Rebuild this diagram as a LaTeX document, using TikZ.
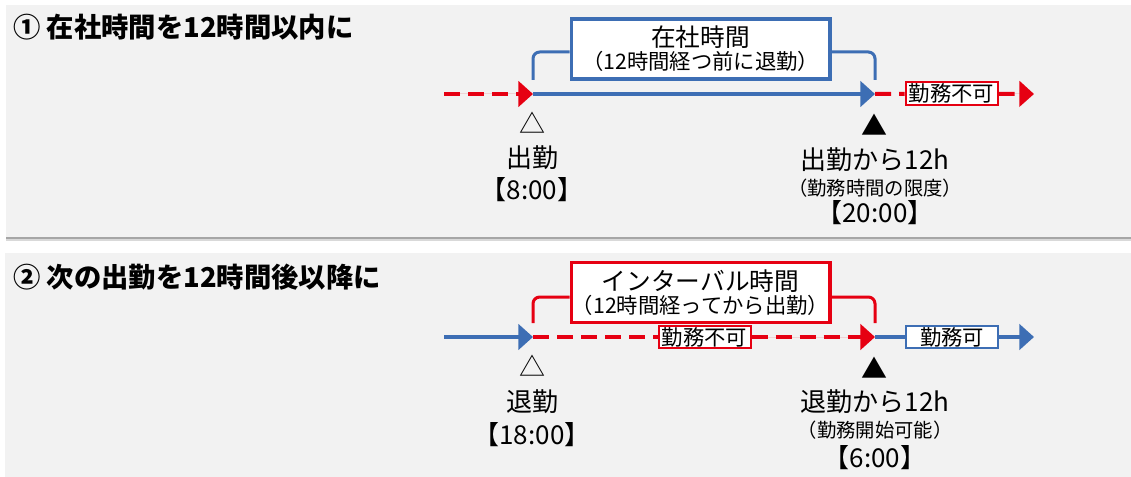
\documentclass[tikz,border=0pt]{standalone}
\usepackage{fontspec}
\setmainfont{Noto Sans CJK JP}
\usetikzlibrary{arrows.meta}
\definecolor{shiftblue}{HTML}{3D6EB4}
\definecolor{shiftred}{HTML}{E60012}

\begin{document}
\begin{tikzpicture}[x=0.75pt,y=-0.75pt]
    \tikzstyle{every node}=[inner sep=0pt]
    \tikzstyle{panel}=[fill=black!5]
    \tikzstyle{heading}=[anchor=west,font=\bfseries\fontsize{20.5}{24}\selectfont]
    \tikzstyle{arrow end}=[-{Triangle[length=11pt,width=19pt]}]
    \tikzstyle{blue line}=[draw=shiftblue,line width=3pt]
    \tikzstyle{red line}=[draw=shiftred,line width=3pt,dash pattern=on 12pt off 6pt]
    \tikzstyle{bracket}=[line width=2.25pt,rounded corners=5pt]
    \tikzstyle{span box}=[draw,fill=white,line width=2.5pt,minimum width=194pt,minimum height=45pt,align=center]
    \tikzstyle{state tag}=[draw,fill=white,line width=1.5pt,minimum width=69pt,minimum height=17pt,font=\fontsize{16}{16}\selectfont]
    \tikzstyle{time label}=[font=\fontsize{19.5}{22}\selectfont]
    \tikzstyle{note label}=[font=\fontsize{14.5}{16}\selectfont]

    \useasboundingbox (0,0) rectangle (1131,477);

    % Draw the two panels
    \fill[black!35] (6,237) rectangle (1131,239);
    \fill[black!15] (6,239) rectangle (1131,241);
    \foreach \left/\top/\bottom in {6/5/237, 5/253/477}
        \fill[panel] (\left,\top) rectangle (1131,\bottom);

    \node[heading] (title1) at (13,27) {① 在社時間を12時間以内に};
    \node[heading] (title2) at (13,277) {② 次の出勤を12時間後以降に};

    % Panel 1: time at the office
    \coordinate (s1) at (444,94);
    \coordinate (in1) at (533,94);
    \coordinate (lim1) at (875,94);
    \coordinate (e1) at (1034,94);
    \node[span box,draw=shiftblue] (stay) at (700.5,49)
        {{\fontsize{18.5}{21}\selectfont 在社時間}\\[1pt]{\fontsize{16}{18}\selectfont （12時間経つ前に退勤）}};
    \node[state tag,draw=shiftred] (nf1) at (951.5,93.5) {勤務不可};

    \draw[bracket,shiftblue] ([yshift=10.5pt]in1) |- ([yshift=-2.25pt]stay.west);
    \draw[bracket,shiftblue] ([yshift=-2.25pt]stay.east) -| ([yshift=10.5pt]lim1);

    \draw[red line,arrow end,fill=shiftred] (s1) -- (in1);
    \draw[blue line,arrow end,fill=shiftblue] (in1) -- (lim1);
    \draw[red line] (lim1) -- (nf1);
    \draw[red line,arrow end,fill=shiftred] (nf1) -- (e1);

    \node[time label] (m1) at (532,123) {△};
    \node[time label] (in1a) at (532,158) {出勤};
    \node[time label] (in1b) at (532,190) {【8:00】};
    \node[time label] (m2) at (874,125) {▲};
    \node[time label] (lim1a) at (875,160) {出勤から12h};
    \node[note label] (lim1b) at (875,188) {（勤務時間の限度）};
    \node[time label] (lim1c) at (875,213) {【20:00】};

    % Panel 2: interval until the next start
    \coordinate (s2) at (444,337);
    \coordinate (out2) at (533,337);
    \coordinate (lim2) at (875,337);
    \coordinate (e2) at (1034,337);
    \node[span box,draw=shiftred] (rest) at (700.5,292.5)
        {{\fontsize{18.5}{21}\selectfont インターバル時間}\\[1pt]{\fontsize{16}{18}\selectfont （12時間経ってから出勤）}};
    \node[state tag,draw=shiftred] (nf2) at (704.5,337) {勤務不可};
    \node[state tag,draw=shiftblue] (ok2) at (952,337) {勤務可};

    \draw[bracket,shiftred] ([yshift=10.5pt]out2) |- ([yshift=-3.4pt]rest.west);
    \draw[bracket,shiftred] ([yshift=-3.4pt]rest.east) -| ([yshift=10.5pt]lim2);

    \draw[blue line,arrow end,fill=shiftblue] (s2) -- (out2);
    \draw[red line] (out2) -- (nf2);
    \draw[red line,arrow end,fill=shiftred] (nf2) -- (lim2);
    \draw[blue line] (lim2) -- (ok2);
    \draw[blue line,arrow end,fill=shiftblue] (ok2) -- (e2);

    \node[time label] (m3) at (532,366) {△};
    \node[time label] (out2a) at (532,402) {退勤};
    \node[time label] (out2b) at (532,435) {【18:00】};
    \node[time label] (m4) at (874,368) {▲};
    \node[time label] (lim2a) at (875,402) {退勤から12h};
    \node[note label] (lim2b) at (875,430) {（勤務開始可能）};
    \node[time label] (lim2c) at (875,458) {【6:00】};
\end{tikzpicture}
\end{document}
